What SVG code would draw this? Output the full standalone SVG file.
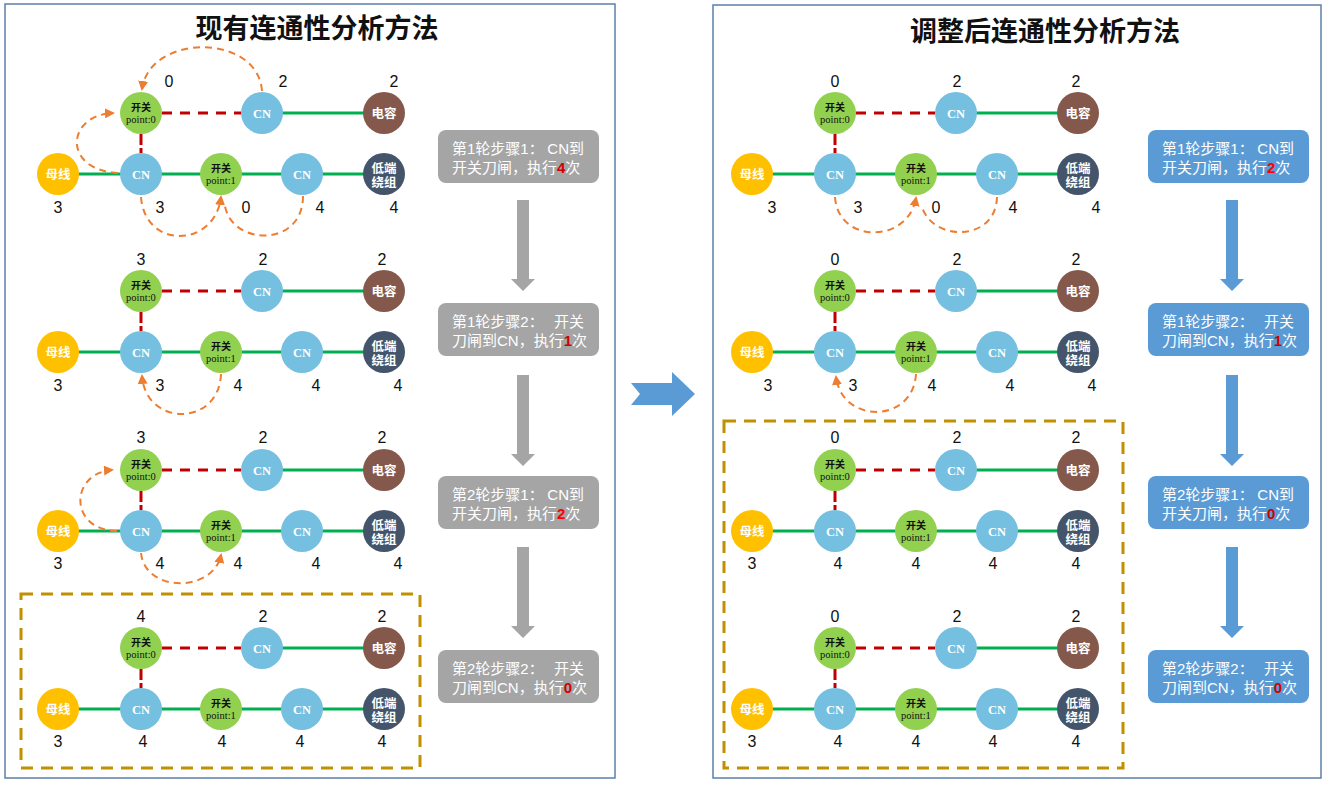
<svg xmlns="http://www.w3.org/2000/svg" width="1327" height="785" viewBox="0 0 1327 785">
<style>
.panel{fill:#fff;stroke:#5b80a8;stroke-width:1.5}
.title{font-family:"Noto Sans CJK SC",sans-serif;font-size:27px;font-weight:700;fill:#111;text-anchor:middle}
.sw{fill:#92d050}.cn{fill:#75bfe0}.cap{fill:#85584c}.bus{fill:#ffc000}.wind{fill:#44546a}
.k{font-family:"Noto Sans CJK SC",sans-serif;font-size:10px;font-weight:700;fill:#111;text-anchor:middle}
.p{font-family:"Liberation Serif",serif;font-size:10.5px;fill:#111;text-anchor:middle}
.w{font-family:"Liberation Serif","Noto Sans CJK SC",serif;font-size:12.5px;font-weight:700;fill:#fff;text-anchor:middle}
.n{font-family:"Liberation Sans",sans-serif;font-size:16px;fill:#111;text-anchor:middle}
.g{stroke:#00b050;stroke-width:3;fill:none}
.r{stroke:#c00000;stroke-width:3;stroke-dasharray:10 8;fill:none}
.rv{stroke:#c00000;stroke-width:3;stroke-dasharray:11 3;fill:none}
.o{stroke:#ed7d31;stroke-width:2;stroke-dasharray:7 5;fill:none}
.oa{marker-end:url(#ah)}
.box{stroke:#c09000;stroke-width:3;stroke-dasharray:12 8;fill:none}
.sg{fill:#a5a5a5}.sb{fill:#5b9bd5}
.st{font-family:"Liberation Sans","Noto Sans CJK SC",sans-serif;font-size:15px;fill:#fff}
.ste{font-family:"Liberation Sans","Noto Sans CJK SC",sans-serif;font-size:15px;fill:#fff;text-anchor:end}
.red{fill:#d00000;font-weight:700}
</style>
<defs>
<marker id="ah" viewBox="0 0 10 10" refX="8" refY="5" markerWidth="10" markerHeight="10" markerUnits="userSpaceOnUse" orient="auto"><path d="M0,0 L10,5 L0,10 z" fill="#ed7d31"/></marker>
</defs>
<rect class="panel" x="5" y="4" width="610" height="774"/>
<rect class="panel" x="713" y="5" width="608" height="773"/>
<text class="title" x="317" y="38">现有连通性分析方法</text>
<text class="title" x="1045" y="41">调整后连通性分析方法</text>

<g id="connectors">
<path class="r" d="M162 113H241"/><path class="rv" d="M141 134V153"/><path class="g" d="M262 113H384M58 174H384"/>
<path class="r" d="M162 291H241"/><path class="rv" d="M141 312V331"/><path class="g" d="M262 291H384M58 352H384"/>
<path class="r" d="M162 470H241"/><path class="rv" d="M141 491V510"/><path class="g" d="M262 470H384M58 531H384"/>
<path class="r" d="M162 648H241"/><path class="rv" d="M141 669V688"/><path class="g" d="M262 648H384M58 709H384"/>
<path class="r" d="M856 113H935"/><path class="rv" d="M835 134V153"/><path class="g" d="M956 113H1078M752 174H1078"/>
<path class="r" d="M856 291H935"/><path class="rv" d="M835 312V331"/><path class="g" d="M956 291H1078M752 352H1078"/>
<path class="r" d="M856 470H935"/><path class="rv" d="M835 491V510"/><path class="g" d="M956 470H1078M752 531H1078"/>
<path class="r" d="M856 648H935"/><path class="rv" d="M835 669V688"/><path class="g" d="M956 648H1078M752 709H1078"/>
<path class="o oa" d="M262 91C258 33 150 33 142 89"/>
<path class="o oa" d="M118 173C62 170 66 115 113 113"/>
<path class="o oa" d="M141 197C145 250 215 248 221 197"/>
<path class="o" d="M303 196C303 248 232 246 225 206"/>
<path class="o oa" d="M221 374C219 427 146 427 142 376"/>
<path class="o oa" d="M117 531C68 530 70 473 112 470"/>
<path class="o oa" d="M141 553C145 593 213 593 221 555"/>
<path class="o oa" d="M835 197C838 244 908 244 916 198"/>
<path class="o" d="M997 197C996 242 933 242 922 207"/>
<path class="o oa" d="M916 374C913 424 842 424 836 377"/>
<path class="sg" d="M517 200H529V279H535L523 291L511 279H517Z"/>
<path class="sg" d="M517 375H529V454H535L523 466L511 454H517Z"/>
<path class="sg" d="M517 547H529V626H535L523 638L511 626H517Z"/>
<path class="sb" d="M1226 200H1238V279H1244L1232 291L1220 279H1226Z"/>
<path class="sb" d="M1226 375H1238V454H1244L1232 466L1220 454H1226Z"/>
<path class="sb" d="M1226 547H1238V626H1244L1232 638L1220 626H1226Z"/>
<polygon class="sb" points="631,383 672,383 672,372 695,394 672,416 672,405 631,405 640,394"/>
</g>

<rect class="box" x="21" y="594" width="399" height="174"/>
<rect class="box" x="724" y="421" width="399" height="347"/>

<g id="L1-sw0"><circle class="sw" cx="141" cy="113" r="21"/><text class="k" x="141" y="110.5">开关</text><text class="p" x="141" y="122.5">point:0</text></g>
<g id="L1-cnT"><circle class="cn" cx="262" cy="113" r="21"/><text class="w" x="262" y="117.5">CN</text></g>
<g id="L1-cap"><circle class="cap" cx="384" cy="113" r="21"/><text class="w" x="384" y="117.5">电容</text></g>
<g id="L1-bus"><circle class="bus" cx="58" cy="174" r="21"/><text class="w" x="58" y="178.5">母线</text></g>
<g id="L1-cn1"><circle class="cn" cx="141" cy="174" r="21"/><text class="w" x="141" y="178.5">CN</text></g>
<g id="L1-sw1"><circle class="sw" cx="221" cy="174" r="21"/><text class="k" x="221" y="171.5">开关</text><text class="p" x="221" y="183.5">point:1</text></g>
<g id="L1-cn2"><circle class="cn" cx="302" cy="174" r="21"/><text class="w" x="302" y="178.5">CN</text></g>
<g id="L1-wind"><circle class="wind" cx="384" cy="174" r="21"/><text class="w" x="384" y="173.4">低端</text><text class="w" x="384" y="187.4">绕组</text></g>
<g id="L1-nums"><text class="n" x="169" y="87">0</text><text class="n" x="283" y="87">2</text><text class="n" x="394" y="87">2</text><text class="n" x="58" y="213">3</text><text class="n" x="160" y="213">3</text><text class="n" x="246" y="213">0</text><text class="n" x="320" y="213">4</text><text class="n" x="394" y="213">4</text></g>

<g id="L2-sw0"><circle class="sw" cx="141" cy="291" r="21"/><text class="k" x="141" y="288.5">开关</text><text class="p" x="141" y="300.5">point:0</text></g>
<g id="L2-cnT"><circle class="cn" cx="262" cy="291" r="21"/><text class="w" x="262" y="295.5">CN</text></g>
<g id="L2-cap"><circle class="cap" cx="384" cy="291" r="21"/><text class="w" x="384" y="295.5">电容</text></g>
<g id="L2-bus"><circle class="bus" cx="58" cy="352" r="21"/><text class="w" x="58" y="356.5">母线</text></g>
<g id="L2-cn1"><circle class="cn" cx="141" cy="352" r="21"/><text class="w" x="141" y="356.5">CN</text></g>
<g id="L2-sw1"><circle class="sw" cx="221" cy="352" r="21"/><text class="k" x="221" y="349.5">开关</text><text class="p" x="221" y="361.5">point:1</text></g>
<g id="L2-cn2"><circle class="cn" cx="302" cy="352" r="21"/><text class="w" x="302" y="356.5">CN</text></g>
<g id="L2-wind"><circle class="wind" cx="384" cy="352" r="21"/><text class="w" x="384" y="351.4">低端</text><text class="w" x="384" y="365.4">绕组</text></g>
<g id="L2-nums"><text class="n" x="141" y="265">3</text><text class="n" x="263" y="265">2</text><text class="n" x="382" y="265">2</text><text class="n" x="58" y="391">3</text><text class="n" x="160" y="391">3</text><text class="n" x="238" y="391">4</text><text class="n" x="316" y="391">4</text><text class="n" x="398" y="391">4</text></g>

<g id="L3-sw0"><circle class="sw" cx="141" cy="470" r="21"/><text class="k" x="141" y="467.5">开关</text><text class="p" x="141" y="479.5">point:0</text></g>
<g id="L3-cnT"><circle class="cn" cx="262" cy="470" r="21"/><text class="w" x="262" y="474.5">CN</text></g>
<g id="L3-cap"><circle class="cap" cx="384" cy="470" r="21"/><text class="w" x="384" y="474.5">电容</text></g>
<g id="L3-bus"><circle class="bus" cx="58" cy="531" r="21"/><text class="w" x="58" y="535.5">母线</text></g>
<g id="L3-cn1"><circle class="cn" cx="141" cy="531" r="21"/><text class="w" x="141" y="535.5">CN</text></g>
<g id="L3-sw1"><circle class="sw" cx="221" cy="531" r="21"/><text class="k" x="221" y="528.5">开关</text><text class="p" x="221" y="540.5">point:1</text></g>
<g id="L3-cn2"><circle class="cn" cx="302" cy="531" r="21"/><text class="w" x="302" y="535.5">CN</text></g>
<g id="L3-wind"><circle class="wind" cx="384" cy="531" r="21"/><text class="w" x="384" y="530.4">低端</text><text class="w" x="384" y="544.4">绕组</text></g>
<g id="L3-nums"><text class="n" x="141" y="443">3</text><text class="n" x="263" y="443">2</text><text class="n" x="382" y="443">2</text><text class="n" x="58" y="569">3</text><text class="n" x="160" y="569">4</text><text class="n" x="238" y="569">4</text><text class="n" x="316" y="569">4</text><text class="n" x="398" y="569">4</text></g>

<g id="L4-sw0"><circle class="sw" cx="141" cy="648" r="21"/><text class="k" x="141" y="645.5">开关</text><text class="p" x="141" y="657.5">point:0</text></g>
<g id="L4-cnT"><circle class="cn" cx="262" cy="648" r="21"/><text class="w" x="262" y="652.5">CN</text></g>
<g id="L4-cap"><circle class="cap" cx="384" cy="648" r="21"/><text class="w" x="384" y="652.5">电容</text></g>
<g id="L4-bus"><circle class="bus" cx="58" cy="709" r="21"/><text class="w" x="58" y="713.5">母线</text></g>
<g id="L4-cn1"><circle class="cn" cx="141" cy="709" r="21"/><text class="w" x="141" y="713.5">CN</text></g>
<g id="L4-sw1"><circle class="sw" cx="221" cy="709" r="21"/><text class="k" x="221" y="706.5">开关</text><text class="p" x="221" y="718.5">point:1</text></g>
<g id="L4-cn2"><circle class="cn" cx="302" cy="709" r="21"/><text class="w" x="302" y="713.5">CN</text></g>
<g id="L4-wind"><circle class="wind" cx="384" cy="709" r="21"/><text class="w" x="384" y="708.4">低端</text><text class="w" x="384" y="722.4">绕组</text></g>
<g id="L4-nums"><text class="n" x="141" y="622">4</text><text class="n" x="263" y="622">2</text><text class="n" x="382" y="622">2</text><text class="n" x="58" y="747">3</text><text class="n" x="143" y="747">4</text><text class="n" x="222" y="747">4</text><text class="n" x="300" y="747">4</text><text class="n" x="382" y="747">4</text></g>

<g id="R1-sw0"><circle class="sw" cx="835" cy="113" r="21"/><text class="k" x="835" y="110.5">开关</text><text class="p" x="835" y="122.5">point:0</text></g>
<g id="R1-cnT"><circle class="cn" cx="956" cy="113" r="21"/><text class="w" x="956" y="117.5">CN</text></g>
<g id="R1-cap"><circle class="cap" cx="1078" cy="113" r="21"/><text class="w" x="1078" y="117.5">电容</text></g>
<g id="R1-bus"><circle class="bus" cx="752" cy="174" r="21"/><text class="w" x="752" y="178.5">母线</text></g>
<g id="R1-cn1"><circle class="cn" cx="835" cy="174" r="21"/><text class="w" x="835" y="178.5">CN</text></g>
<g id="R1-sw1"><circle class="sw" cx="916" cy="174" r="21"/><text class="k" x="916" y="171.5">开关</text><text class="p" x="916" y="183.5">point:1</text></g>
<g id="R1-cn2"><circle class="cn" cx="997" cy="174" r="21"/><text class="w" x="997" y="178.5">CN</text></g>
<g id="R1-wind"><circle class="wind" cx="1078" cy="174" r="21"/><text class="w" x="1078" y="173.4">低端</text><text class="w" x="1078" y="187.4">绕组</text></g>
<g id="R1-nums"><text class="n" x="835" y="87">0</text><text class="n" x="957" y="87">2</text><text class="n" x="1076" y="87">2</text><text class="n" x="772" y="213">3</text><text class="n" x="858" y="213">3</text><text class="n" x="936" y="213">0</text><text class="n" x="1013" y="213">4</text><text class="n" x="1096" y="213">4</text></g>

<g id="R2-sw0"><circle class="sw" cx="835" cy="291" r="21"/><text class="k" x="835" y="288.5">开关</text><text class="p" x="835" y="300.5">point:0</text></g>
<g id="R2-cnT"><circle class="cn" cx="956" cy="291" r="21"/><text class="w" x="956" y="295.5">CN</text></g>
<g id="R2-cap"><circle class="cap" cx="1078" cy="291" r="21"/><text class="w" x="1078" y="295.5">电容</text></g>
<g id="R2-bus"><circle class="bus" cx="752" cy="352" r="21"/><text class="w" x="752" y="356.5">母线</text></g>
<g id="R2-cn1"><circle class="cn" cx="835" cy="352" r="21"/><text class="w" x="835" y="356.5">CN</text></g>
<g id="R2-sw1"><circle class="sw" cx="916" cy="352" r="21"/><text class="k" x="916" y="349.5">开关</text><text class="p" x="916" y="361.5">point:1</text></g>
<g id="R2-cn2"><circle class="cn" cx="997" cy="352" r="21"/><text class="w" x="997" y="356.5">CN</text></g>
<g id="R2-wind"><circle class="wind" cx="1078" cy="352" r="21"/><text class="w" x="1078" y="351.4">低端</text><text class="w" x="1078" y="365.4">绕组</text></g>
<g id="R2-nums"><text class="n" x="835" y="265">0</text><text class="n" x="957" y="265">2</text><text class="n" x="1076" y="265">2</text><text class="n" x="768" y="391">3</text><text class="n" x="853" y="391">3</text><text class="n" x="932" y="391">4</text><text class="n" x="1010" y="391">4</text><text class="n" x="1092" y="391">4</text></g>

<g id="R3-sw0"><circle class="sw" cx="835" cy="470" r="21"/><text class="k" x="835" y="467.5">开关</text><text class="p" x="835" y="479.5">point:0</text></g>
<g id="R3-cnT"><circle class="cn" cx="956" cy="470" r="21"/><text class="w" x="956" y="474.5">CN</text></g>
<g id="R3-cap"><circle class="cap" cx="1078" cy="470" r="21"/><text class="w" x="1078" y="474.5">电容</text></g>
<g id="R3-bus"><circle class="bus" cx="752" cy="531" r="21"/><text class="w" x="752" y="535.5">母线</text></g>
<g id="R3-cn1"><circle class="cn" cx="835" cy="531" r="21"/><text class="w" x="835" y="535.5">CN</text></g>
<g id="R3-sw1"><circle class="sw" cx="916" cy="531" r="21"/><text class="k" x="916" y="528.5">开关</text><text class="p" x="916" y="540.5">point:1</text></g>
<g id="R3-cn2"><circle class="cn" cx="997" cy="531" r="21"/><text class="w" x="997" y="535.5">CN</text></g>
<g id="R3-wind"><circle class="wind" cx="1078" cy="531" r="21"/><text class="w" x="1078" y="530.4">低端</text><text class="w" x="1078" y="544.4">绕组</text></g>
<g id="R3-nums"><text class="n" x="835" y="443">0</text><text class="n" x="957" y="443">2</text><text class="n" x="1076" y="443">2</text><text class="n" x="752" y="569">3</text><text class="n" x="838" y="569">4</text><text class="n" x="916" y="569">4</text><text class="n" x="993" y="569">4</text><text class="n" x="1076" y="569">4</text></g>

<g id="R4-sw0"><circle class="sw" cx="835" cy="648" r="21"/><text class="k" x="835" y="645.5">开关</text><text class="p" x="835" y="657.5">point:0</text></g>
<g id="R4-cnT"><circle class="cn" cx="956" cy="648" r="21"/><text class="w" x="956" y="652.5">CN</text></g>
<g id="R4-cap"><circle class="cap" cx="1078" cy="648" r="21"/><text class="w" x="1078" y="652.5">电容</text></g>
<g id="R4-bus"><circle class="bus" cx="752" cy="709" r="21"/><text class="w" x="752" y="713.5">母线</text></g>
<g id="R4-cn1"><circle class="cn" cx="835" cy="709" r="21"/><text class="w" x="835" y="713.5">CN</text></g>
<g id="R4-sw1"><circle class="sw" cx="916" cy="709" r="21"/><text class="k" x="916" y="706.5">开关</text><text class="p" x="916" y="718.5">point:1</text></g>
<g id="R4-cn2"><circle class="cn" cx="997" cy="709" r="21"/><text class="w" x="997" y="713.5">CN</text></g>
<g id="R4-wind"><circle class="wind" cx="1078" cy="709" r="21"/><text class="w" x="1078" y="708.4">低端</text><text class="w" x="1078" y="722.4">绕组</text></g>
<g id="R4-nums"><text class="n" x="835" y="622">0</text><text class="n" x="957" y="622">2</text><text class="n" x="1076" y="622">2</text><text class="n" x="752" y="747">3</text><text class="n" x="838" y="747">4</text><text class="n" x="916" y="747">4</text><text class="n" x="993" y="747">4</text><text class="n" x="1076" y="747">4</text></g>

<g id="LS1"><rect class="sg" x="438" y="130" width="161" height="53" rx="8"/><text class="st" x="452" y="154">第1轮步骤1：</text><text class="ste" x="584" y="154">CN到</text><text class="st" x="452" y="173">开关刀闸，执行<tspan class="red">4</tspan>次</text></g>
<g id="LS2"><rect class="sg" x="438" y="303" width="161" height="53" rx="8"/><text class="st" x="452" y="327">第1轮步骤2：</text><text class="ste" x="584" y="327">开关</text><text class="st" x="452" y="346">刀闸到CN，执行<tspan class="red">1</tspan>次</text></g>
<g id="LS3"><rect class="sg" x="438" y="476" width="161" height="53" rx="8"/><text class="st" x="452" y="500">第2轮步骤1：</text><text class="ste" x="584" y="500">CN到</text><text class="st" x="452" y="519">开关刀闸，执行<tspan class="red" style="fill:#ff0000">2</tspan>次</text></g>
<g id="LS4"><rect class="sg" x="438" y="650" width="161" height="53" rx="8"/><text class="st" x="452" y="674">第2轮步骤2：</text><text class="ste" x="584" y="674">开关</text><text class="st" x="452" y="693">刀闸到CN，执行<tspan class="red">0</tspan>次</text></g>

<g id="RS1"><rect class="sb" x="1148" y="130" width="161" height="53" rx="8"/><text class="st" x="1162" y="154">第1轮步骤1：</text><text class="ste" x="1294" y="154">CN到</text><text class="st" x="1162" y="173">开关刀闸，执行<tspan class="red" style="fill:#ff0000">2</tspan>次</text></g>
<g id="RS2"><rect class="sb" x="1148" y="303" width="161" height="53" rx="8"/><text class="st" x="1162" y="327">第1轮步骤2：</text><text class="ste" x="1294" y="327">开关</text><text class="st" x="1162" y="346">刀闸到CN，执行<tspan class="red">1</tspan>次</text></g>
<g id="RS3"><rect class="sb" x="1148" y="476" width="161" height="53" rx="8"/><text class="st" x="1162" y="500">第2轮步骤1：</text><text class="ste" x="1294" y="500">CN到</text><text class="st" x="1162" y="519">开关刀闸，执行<tspan class="red">0</tspan>次</text></g>
<g id="RS4"><rect class="sb" x="1148" y="650" width="161" height="53" rx="8"/><text class="st" x="1162" y="674">第2轮步骤2：</text><text class="ste" x="1294" y="674">开关</text><text class="st" x="1162" y="693">刀闸到CN，执行<tspan class="red">0</tspan>次</text></g>
</svg>
